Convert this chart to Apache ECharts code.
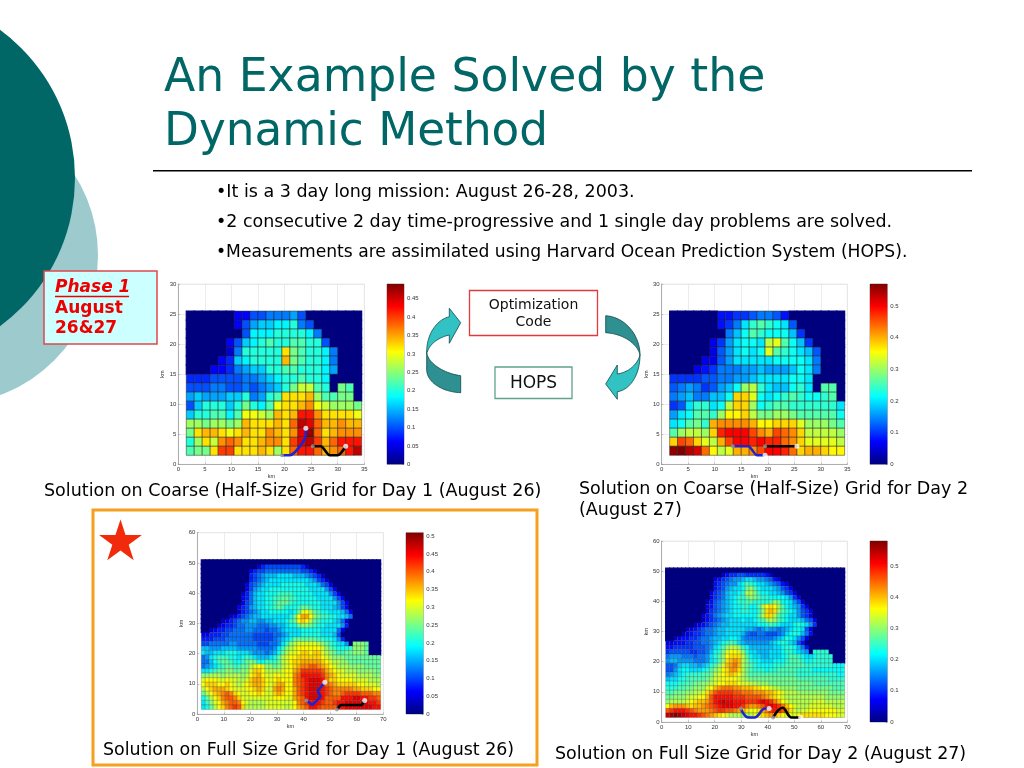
<!DOCTYPE html>
<html><head><meta charset="utf-8">
<style>html,body{margin:0;padding:0;background:#fff}
#c,#s{position:absolute;left:0;top:0;width:1024px;height:768px}
#c{filter:blur(0.55px)}</style>
<script src="https://cdn.jsdelivr.net/npm/echarts@6/dist/echarts.min.js"></script>
</head><body><div id="c"></div><div id="s"></div>
<script>
// Cell codes: A=0.00, B=0.02, C=0.04 ... Z=0.50, a=0.52 ... d=0.58 (rows top to bottom, columns left to right; missing trailing cells are 0)
const LEVELS = 'ABCDEFGHIJKLMNOPQRSTUVWXYZabcd';
const coarseDay1 = [
 'AAAAAADDFFGGGHF',
 'AAAAAADFHIIJJKGF',
 'AAAAAAAFJJJKKKKJG',
 'AAAAADFIJKLKKLLKKF',
 'AAAAACGKKKKKQMLKKJG',
 'AAAADEIJKKKKRMLKKJG',
 'AAADDEGHIIKKLLKKKJH',
 'EEEFFFFGGHIJKKLKKJ',
 'FFFGGFFGFGHIKMOOLKAMLA',
 'HIHHHIIKGHKLQQQRNLLMMA',
 'FIKKKIKMKJLPQQRSPONNNM',
 'IKKLLJLPPONRQRVVSQQQQP',
 'NNMNNMNRQQQRQTXWTRRSRR',
 'MQRRQPQRQQSRQSWYTQRSSS',
 'KNQOSTSQQRSSQUWXURTVVV',
 'LMMQUUQQQRQNQTVVTRSTVX'
];
const coarseDay2 = [
 'AAAAAAEEFFGHHGE',
 'AAAAAAEFHKMNMLKG',
 'AAAAAAAHJLNMLLLJF',
 'AAAAADFIKLLKQRNLJF',
 'AAAAADGIKLKLRNMLKJG',
 'AAAADDGIKKKKKLLLLKH',
 'AAADEFHHHIIJIIIJLKH',
 'FFFFGGHHIIJKKKKLLK',
 'GHIHFGIJLPQMKJJLMKANNA',
 'HIJHHJJLTTRLKLMNMLLMNA',
 'FGKMMKLQTTPLMNNMMMMMMK',
 'IKLNNMPSSTQOOPPONNNNNL',
 'KLNOMUVVVVUSSTTTRPPPON',
 'NPQQPTYZZZXVUXWVTQQQQP',
 'TXWTRQUXZZYZYYWVTRRRRQ',
 'cdbaWSQRUUVXZZYWTUUTSS'
];
const fullDay1 = [
 '',
 'AAAAAAAAAAAAAA CEFFFFFFFFFEC',
 'AAAAAAAAAAAA DEFFGGGGGGGGGFFED',
 'AAAAAAAAAAAA EFGHIIIJJJJIIIHGFEC',
 'AAAAAAAAAAAA EFGHIJJJJJJJJJJIHFEC',
 'AAAAAAAAAAA DFGHIJJJJKKKKKKJJJIGFD',
 'AAAAAAAAAAA DFHIJJKKKKKKKKKKJJJJHFD',
 'AAAAAAAAAA CEGIJJKKKLLLLKKKKKJJJJHFD',
 'AAAAAAAAAA DEGIJJKKLLMMLLKKKKKJJJJHFD',
 'AAAAAAAAAA DFGIJJKKLMMMLKKKKKKKJJJJHFD',
 'AAAAAAAAA DEFHIJJKKLMLKKK LMML KKJJJIHFD',
 'AAAAAAAAA CEFGHIJJKKKKKJK MPQO MLKKJJJIGD',
 'AAAAAAA CDEFGHIIJJJJJJJKM QSSQ NMLLKKJJIG',
 'AAAAA CDEFGHHI IHHIIJJJKLM QRQO MLKKKJIGD',
 'AAAA CDEEFGGHH HGGGHHIIJKK MNNM LKKJJJJHE',
 'AA CDEEFFGGGHH GGGFGGHIJJJ JKKK KKJJJJGD',
 'DDEEEFFGGGGGG FFFFFGGHIJJ JKKK KKJJJIF',
 'EEEFFFGGGGGGG FFFFFGHIJKM MMMM MLLKKJHE',
 'FFGGGGGHHGGGG GFFFGGHJLNO PPPP PONMLKJJH A NNNM',
 'IIHHHIIIIHHHH HGGGGHJLNOP QQQQ QQPNMLKKK L NNNM',
 'JIIJJJKKKJJJI HHHGHIKMOPP QRRQ RRPONMLLM MNNNM',
 'GHJKLLLKKJKLK JIIIJKMOPQQ RRRR RRQPONNNM MMMMMMMM',
 'GGIKLMMLKKLMN MKKLLLMOPQR RSSS SSRQPOONN MMMMMMMM',
 'GHIJKLMMLLMMO PQPNNMNOPQR STTU UTSRQPOOO NNNNMMMM',
 'JJKLMMNNMMNNP RRQOOOOPQQS TVVV VVUSRQPPO OONNNNNM',
 'NNOOONOOOONOQ RSQPPQQPQQT UWWW WWVTSRQPP PPOOOONN',
 'PQQQPPQPPOOPR SSRQPQRQQQT UVWX XXWTRRQQQ QPPPPOOO',
 'QRRRQQRQPOPQR SSRQPRSSQQT UVWX XXWUTSRRR RRQQPPPO',
 'OQRSSSRQPPPQQ RSRPPSTSQQS UVWX XXWVUTTTT TSSRRRQQ',
 'MOQRSTUTRQPPQ QRQPPRSRQQS UVWX XXWVUTTUV VVVUUUTT',
 'KMOQRTUUTRPPP PPPPPQQQPPS TUWX XXWUUUUWW WXXWWVVU',
 'JLNPQSTUUTQPO OOOPPPPPPPQ TUVW WWVUUVWWX XXXXXWWV',
 'JKMOQRTUVUROO OOOPPPPPOPQ STUW WVUUUUWWX XXXXXXWW'
];
const fullDay2 = [
 '',
 'AAAAAAAAAAAAAA CEFFGGFFFFFEC',
 'AAAAAAAAAAAA DEFGHIIJKKJIIHGED',
 'AAAAAAAAAAAA EFGHIIKLNMLKKJIHGED',
 'AAAAAAAAAAAA EFGIJKKLOPNLKKKJIGFD',
 'AAAAAAAAAAA DFGHJKKLMQQOMLLKKJIGFD',
 'AAAAAAAAAAA DFGHJKLMMOPONMMLLLLKIFD',
 'AAAAAAAAAA CEGHIJKLMMNNMMMMNPOLLKIGD',
 'AAAAAAAAAA DEGHIJKLLMMLLNQSTSPNLKJIFD',
 'AAAAAAAAAA DFGHIJKLLMMLLMPTUTPNMLKIGFD',
 'AAAAAAAAA DEFHIJKKLLLLLLNQTTQNMLKKIGFD',
 'AAAAAAAAA CEFGHIJKKKLKKLMNPQPNMLKKKJHGD',
 'AAAAAAA CDEFGHIJJKKKKKKKLLMNMLKKKLMLKIF',
 'AAAAA CDEFGHHIJJKKKKKJJIHIJIIHIJKLLKGD',
 'AAAA CDEFFGHHIJJKKKKJHGGHHGGGHIKLMLJHE',
 'AA CDEEFFGHHIJJKKLLKIHHHHHHHIJKMLKIGD',
 'DDEEEFFGGHHIJKLMNMKJIIIIIIJKLMLKJGE',
 'EEFFFFFGGGHIKLNPQQPMLJJJJJJKKLMMLJHE',
 'FGGGGGFFGGHJLMORSSRPMKKJJJKKKLMMLKJI A MMMM',
 'HIIIHHHGHHIKMNPSTTTQNLKKJJKKKLMNNMLKK L MMMM',
 'IJJIIIIHHHIKLNPTUVUQOMLLKKKLLLMNNNMLL MMMMM',
 'GGHJKKJJIJKMNPRUVWUQONMLLLLMMMNNNNNMM MMMMMLLL',
 'GGIKLLKKKLMNPQSTVVTQONMMMLMMNNNNNMMMM LLLLLLLL',
 'HIJKLMMMMNNOQRSTUTSQONNNNNNNNNNNNMMMM MMMMMMLL',
 'JKKLMMNNNNOPRRSSSSRQPOOOOOOOOOOOONNNN NNNNMMMM',
 'LLLMMNNOOPPQRSSTTTSRRQQPPPOOOOOOOOOOO NNNNNNNN',
 'MMMNNOOPPPRSUVWWWVVUUUTTSSRQQPPPPOOOO OOOOONNN',
 'NNOOOPPQQRTVXYYYYXXWWWVVVUUTSRQQQPPPP PPPPOOOO',
 'OOPPPQRRSSUXZZZZZYYYXXXXWVUTSRQQQQQQQ QQQPPPPP',
 'PQQQQRSTUUVXZabaaZZZYYYZaZYWUSRQQQQQQ RRRQQQQQ',
 'SUVVVUTUUVWXYZaaaZZYWVVWXZaZYWUSRQQQR RRRRRQQQ',
 'XYZZZYXWVVVWXYYXXWVUTSSTUWYZYXVTRQRRS SSSSSSRR',
 'bcdcbaZZYXWVUTSRQQQPPQRSTUVUTSRRRSTTT TTTSSSRR'
];
const coarseCols = 22, fullCols = 45, cellKm = 1.5;
const maxDay1Coarse = 0.49, maxDay2Coarse = 0.57, maxDay1Full = 0.51, maxDay2Full = 0.58;
// AUV tracks in km
const blue1 = [[19.5,1.5],[20.9,1.5],[24,4.9],[24,6]];
const black1 = [[25.3,3],[26.8,3],[28.5,1.5],[30,1.5],[31.5,3]];
const blue2 = [[13.4,3],[16.3,3],[18,1.5],[19.5,1.5]];
const black2 = [[19.5,3],[25.5,3]];
const blue3 = [[41,4.5],[43.3,3],[46.4,5.7],[45.3,7.7],[48,10.5]];
const black3 = [[52.5,1.5],[54,3],[61.9,3],[63,4.5]];
const blue4 = [[29.8,4.5],[32.7,1.5],[35,1.5],[39,4.5],[40.5,4.5]];
const black4 = [[42,1.5],[45.6,4.7],[49,1.5],[52.4,1.5]];

const JET9 = ['#00007f','#0000ff','#007fff','#00ffff','#7fff7f','#ffff00','#ff7f00','#ff0000','#7f0000'];

function cells(rows, cols){
  const top = cellKm + cellKm*rows.length, out = [];
  rows.forEach((row, r) => {
    const s = row.replace(/ /g,'').padEnd(cols,'A');
    for (let c=0;c<cols;c++) out.push([cellKm*(c+1.5), top-cellKm*(r+0.5), LEVELS.indexOf(s[c])*0.02]);
  });
  return out;
}
const panels = [
 {rows:coarseDay1,cols:coarseCols,max:maxDay1Coarse,xMax:35,yMax:30,xInt:5,yInt:5,barInt:.05,blue:blue1,black:black1,l:178.3,t:284,w:186,h:180.3,bl:387,bw:17,smooth:.25},
 {rows:coarseDay2,cols:coarseCols,max:maxDay2Coarse,xMax:35,yMax:30,xInt:5,yInt:5,barInt:.1,blue:blue2,black:black2,l:661.7,t:284,w:185.6,h:180.3,bl:870,bw:17.3,smooth:.25},
 {rows:fullDay1,cols:fullCols,max:maxDay1Full,xMax:70,yMax:60,xInt:10,yInt:10,barInt:.05,blue:blue3,black:black3,l:197.3,t:532.7,w:186,h:181.3,bl:406,bw:17.3,smooth:0},
 {rows:fullDay2,cols:fullCols,max:maxDay2Full,xMax:70,yMax:60,xInt:10,yInt:10,barInt:.1,blue:blue4,black:black4,l:661.7,t:541,w:185.6,h:181,bl:870,bw:17.3,smooth:.4}
];

const grid=[],xAxis=[],yAxis=[],series=[],visualMap=[];
const axisFont={fontSize:6,color:'#333',fontFamily:'Liberation Sans',margin:2};
panels.forEach((p,i)=>{
  const gi=grid.length;
  grid.push({left:p.l,top:p.t,width:p.w,height:p.h,show:true,borderColor:'#ddd',borderWidth:.6,backgroundColor:'#fff'});
  const common={type:'value',min:0,axisLine:{show:true,onZero:false,lineStyle:{color:'#888',width:.6}},
    axisTick:{show:true,inside:true,length:1.5,lineStyle:{color:'#888',width:.5}},
    splitLine:{show:true,lineStyle:{color:'#e4e4e4',width:.7}},axisLabel:axisFont,
    name:'km',nameLocation:'middle',nameTextStyle:{fontSize:5.5,color:'#333',fontFamily:'Liberation Sans'}};
  xAxis.push({...common,gridIndex:gi,max:p.xMax,interval:p.xInt,nameGap:9});
  yAxis.push({...common,gridIndex:gi,max:p.yMax,interval:p.yInt,nameGap:11});
  const si=series.length;
  visualMap.push({type:'continuous',show:false,min:0,max:p.max,dimension:2,seriesIndex:si,inRange:{color:JET9}});
  const fine=p.cols===fullCols;
  series.push({type:'custom',xAxisIndex:gi,yAxisIndex:gi,coordinateSystem:'cartesian2d',
    encode:{x:0,y:1},silent:true,animation:false,z:2,data:cells(p.rows,p.cols),
    renderItem:(params,api)=>{
      const v=api.value(2),col=api.visual('color');
      const c=api.coord([api.value(0)-cellKm/2,api.value(1)+cellKm/2]);
      const s=api.size([cellKm,cellKm]);
      return {type:'rect',z2:v===0?0:1,shape:{x:c[0],y:c[1],width:s[0],height:s[1]},
        style:{fill:col,stroke:v===0?col:(fine?'rgba(30,30,30,.42)':'rgba(30,30,30,.6)'),lineWidth:v===0?1.2:(fine?.5:.8)}};
    }});
  series.push({type:'line',xAxisIndex:gi,yAxisIndex:gi,data:p.blue,showSymbol:false,smooth:p.smooth,z:5,animation:false,silent:true,lineStyle:{color:'#2222cc',width:2.6}});
  series.push({type:'line',xAxisIndex:gi,yAxisIndex:gi,data:p.black,showSymbol:false,smooth:p.smooth,z:5,animation:false,silent:true,lineStyle:{color:'#000',width:2.6}});
  series.push({type:'scatter',xAxisIndex:gi,yAxisIndex:gi,data:[p.blue[0],p.black[0]],symbolSize:4,z:6,animation:false,silent:true,itemStyle:{color:'#999'}});
  series.push({type:'scatter',xAxisIndex:gi,yAxisIndex:gi,data:[p.blue[p.blue.length-1],p.black[p.black.length-1]],symbolSize:5,z:6,animation:false,silent:true,itemStyle:{color:'#fff'}});
  // colour bar
  const bi=grid.length;
  grid.push({left:p.bl,top:p.t,width:p.bw,height:p.h,show:true,borderColor:'#444',borderWidth:.5});
  xAxis.push({type:'category',gridIndex:bi,data:['c'],show:false});
  yAxis.push({type:'value',gridIndex:bi,position:'right',min:0,max:p.max,interval:p.barInt,
    axisLine:{show:false},axisTick:{show:true,inside:true,length:1.5,lineStyle:{color:'#444',width:.5}},splitLine:{show:false},
    axisLabel:{...axisFont,showMaxLabel:false,margin:3,formatter:v=>String(+v.toFixed(2))}});
  series.push({type:'bar',xAxisIndex:bi,yAxisIndex:bi,data:[p.max],barWidth:'100%',silent:true,animation:false,
    itemStyle:{color:new echarts.graphic.LinearGradient(0,1,0,0,[
      {offset:0,color:'#00007f'},{offset:.125,color:'#0000ff'},{offset:.375,color:'#00ffff'},
      {offset:.625,color:'#ffff00'},{offset:.875,color:'#ff0000'},{offset:1,color:'#7f0000'}])}});
});

const FONT='"DejaVu Sans"';
function txt(text,x,y,size,fill,extra){
  return {type:'text',silent:true,z:10,style:Object.assign({text,x,y:y+1.5,fill:fill||'#000',font:`${size}px ${FONT}`,
    textAlign:'left',textVerticalAlign:'middle',align:'left',verticalAlign:'middle'},extra||{})};
}
function box(x,y,w,h,fill,stroke,lw){
  return {type:'rect',silent:true,z:8,shape:{x,y,width:w,height:h},style:{fill,stroke,lineWidth:lw}};
}
function bez(p0,p1,p2,p3){
  const out=[];
  for(let k=1;k<=24;k++){const t=k/24,u=1-t;
    out.push([u*u*u*p0[0]+3*u*u*t*p1[0]+3*u*t*t*p2[0]+t*t*t*p3[0],u*u*u*p0[1]+3*u*u*t*p1[1]+3*u*t*t*p2[1]+t*t*t*p3[1]]);}
  return out;
}
function arrowPart(points,fill){
  return {type:'polygon',silent:true,z:8,shape:{points},style:{fill,stroke:'#0A4A4A',lineWidth:.8}};
}
const star=[];
for(let k=0;k<10;k++){const r=k%2?8.6:22.5,a=-Math.PI/2+k*Math.PI/5;star.push([120.5+r*Math.cos(a),542+r*Math.sin(a)]);}
const DARK='#2E9090',LIGHT='#33C2C4';
const graphicEls=[
 {type:'circle',silent:true,shape:{cx:-51,cy:255,r:149},style:{fill:'#9CCACD'}},
 {type:'circle',silent:true,shape:{cx:-109,cy:178,r:184},style:{fill:'#006666'}},
 txt('An Example Solved by the',164,77.5,45.7,'#006666'),
 txt('Dynamic Method',164,131.5,45.3,'#006666'),
 {type:'rect',silent:true,shape:{x:153,y:170,width:819,height:1.4},style:{fill:'#000'}},
 txt('•It is a 3 day long mission: August 26-28, 2003.',216,190.5,17.5),
 txt('•2 consecutive 2 day time-progressive and 1 single day problems are solved.',216,220.5,17.45),
 txt('•Measurements are assimilated using Harvard Ocean Prediction System (HOPS).',216,251,17.15),
 box(44,271,113,73,'#CCFFFF','#E0474C',1.5),
 txt('Phase 1',55,286,17,'#EE0000',{font:`italic bold 17px ${FONT}`}),
 {type:'line',silent:true,z:10,shape:{x1:55,y1:296.5,x2:129,y2:296.5},style:{stroke:'#EE0000',lineWidth:1.3}},
 txt('August',55,307,17,'#EE0000',{font:`bold 17px ${FONT}`}),
 txt('26&27',55,327,17,'#EE0000',{font:`bold 17px ${FONT}`}),
 box(469.5,290.5,128,45,'#fff','#E03A3A',1.3),
 txt('Optimization',533.5,303.5,14,'#111',{textAlign:'center',align:'center'}),
 txt('Code',533.5,320.5,14,'#111',{textAlign:'center',align:'center'}),
 box(495,367,77,31.5,'#fff','#5FA38F',1.3),
 txt('HOPS',533.5,382.5,17,'#111',{textAlign:'center',align:'center'}),
 arrowPart([[460.7,375.7],...bez([460.7,375.7],[442,373],[427,362],[426.7,351.7]),[426.7,370],...bez([426.7,370],[427,382],[442,392],[460.7,392.7])],DARK),
 arrowPart([[449.3,316.7],[449.3,308.3],[460.7,322.7],[449.3,343.3],[449.3,335],...bez([449.3,335],[440,337],[430,343],[427.5,351.7]),[426.7,351.7],...bez([426.7,351.7],[426.7,335],[436,320],[449.3,316.7])],LIGHT),
 arrowPart([[605.7,315.7],...bez([605.7,315.7],[625,317],[640,335],[640,355]),...bez([640,355],[638,345],[625,334],[605.7,332.7])],DARK),
 arrowPart([[640,355],...bez([640,355],[638,363],[630,372],[617.3,374]),[617.3,365],[605.7,384],[617.3,399.3],[617.3,391.7],...bez([617.3,391.7],[630,390],[640,375],[640,355])],LIGHT),
 txt('Solution on Coarse (Half-Size) Grid for Day 1 (August 26)',44,489.5,17.5),
 txt('Solution on Coarse (Half-Size) Grid for Day 2',579,487.5,17.5),
 txt('(August 27)',579,508.5,17.5),
 box(93,510,444,255,'rgba(0,0,0,0)','#F5A01E',3),
 {type:'polygon',silent:true,z:9,shape:{points:star},style:{fill:'#F22A0C'}},
 txt('Solution on Full Size Grid for Day 1 (August 26)',103,748.5,17.45),
 txt('Solution on Full Size Grid for Day 2 (August 27)',555,752.5,17.45)
];

const chart=echarts.init(document.getElementById('c'),null,{width:1024,height:768,renderer:'canvas'});
chart.setOption({animation:false,backgroundColor:'#fff',grid,xAxis,yAxis,visualMap,series});
const slide=echarts.init(document.getElementById('s'),null,{width:1024,height:768,renderer:'canvas'});
slide.setOption({animation:false,backgroundColor:'transparent',graphic:{elements:graphicEls}});
</script></body></html>
